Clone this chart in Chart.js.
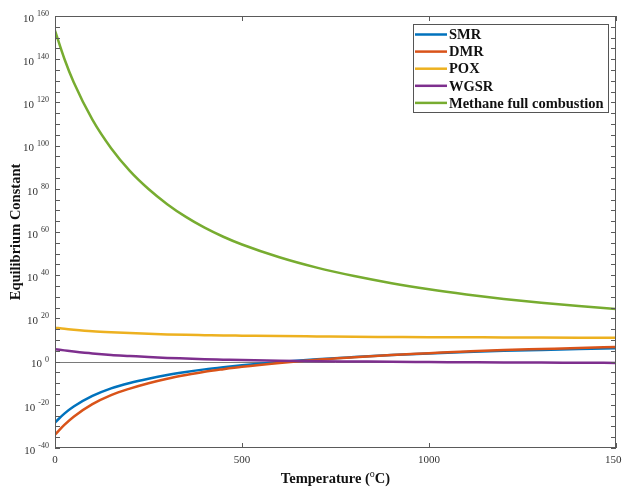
<!DOCTYPE html>
<html lang="en">
<head>
  <meta charset="UTF-8">
  <title>Equilibrium Constant</title>
  <style>
    html, body { margin: 0; padding: 0; background: #fff; }
    #wrap { width: 622px; height: 487px; }
  </style>
  <script src="https://cdn.jsdelivr.net/npm/chart.js"></script>
</head>
<body>
  <div id="wrap"><canvas id="myChart" width="622" height="487"></canvas></div>
  <script>
    // temperature (oC) and log10 of the equilibrium constant
    const temps = [0, 25, 50, 100, 150, 200, 250, 300, 350, 400, 450, 500, 600, 700, 800, 900, 1000, 1100, 1200, 1300, 1400, 1500];
    const smr = [-28.2, -24.1, -20.8, -15.9, -12.4, -9.9, -7.9, -6.2, -4.8, -3.6, -2.6, -1.7, -0.2, 1.1, 2.1, 3.0, 3.7, 4.4, 5.0, 5.4, 5.8, 6.2];
    const dmr = [-33.8, -29.3, -25.5, -19.7, -15.5, -12.5, -10.0, -7.9, -6.2, -4.7, -3.5, -2.4, -0.6, 0.9, 2.05, 3.1, 3.9, 4.7, 5.4, 5.85, 6.3, 6.8];
    const pox = [15.7, 15.2, 14.8, 14.1, 13.6, 13.2, 12.9, 12.6, 12.4, 12.25, 12.1, 12.0, 11.8, 11.65, 11.5, 11.4, 11.3, 11.25, 11.2, 11.1, 11.05, 11.0];
    const wgsr = [5.7, 5.2, 4.7, 3.8, 3.1, 2.6, 2.1, 1.7, 1.4, 1.1, 0.9, 0.7, 0.4, 0.2, 0.05, -0.1, -0.2, -0.3, -0.4, -0.45, -0.5, -0.6];
    const combustion = [153.2, 140.2, 129.3, 112.0, 98.8, 88.3, 79.9, 72.9, 67.0, 62.0, 57.8, 54.2, 48.3, 43.5, 39.6, 36.3, 33.5, 31.1, 29.0, 27.2, 25.7, 24.4];

    const seriesNames = ['SMR', 'DMR', 'POX', 'WGSR', 'Methane full combustion'];
    const seriesColors = ['#0072BD', '#D95319', '#EDB120', '#7E2F8E', '#77AC30'];
    const xTicks = [0, 500, 1000, 1500];
    const yExpTicks = [-40, -20, 0, 20, 40, 60, 80, 100, 120, 140, 160];

    const SERIF = '"Liberation Serif", "Times New Roman", serif';

    function pts(vals) {
      return temps.map((t, i) => ({ x: t, y: vals[i] }));
    }

    const allSeries = [smr, dmr, pox, wgsr, combustion];
    const datasets = allSeries.map((vals, i) => ({
      label: seriesNames[i],
      data: pts(vals),
      borderColor: seriesColors[i],
      backgroundColor: seriesColors[i],
      borderWidth: 2.5,
      pointRadius: 0,
      fill: false,
      cubicInterpolationMode: 'monotone',
      order: 5 - i
    }));

    // axes box, ticks, power-of-ten labels, titles and legend, MATLAB style
    const matlabAxes = {
      id: 'matlabAxes',
      beforeDatasetsDraw(chart) {
        const { ctx, chartArea: a, scales: { y } } = chart;
        const y0 = Math.round(y.getPixelForValue(0)) + 0.5;
        ctx.save();
        ctx.strokeStyle = '#7a7a7a';
        ctx.lineWidth = 1;
        ctx.beginPath();
        ctx.moveTo(a.left, y0);
        ctx.lineTo(a.right, y0);
        ctx.stroke();
        ctx.restore();
      },
      afterDraw(chart) {
        const { ctx, chartArea: a, scales: { x, y } } = chart;
        ctx.save();
        ctx.strokeStyle = '#5a5a5a';
        ctx.lineWidth = 1;
        ctx.strokeRect(a.left + 0.5, a.top + 0.5, a.right - a.left - 1, a.bottom - a.top - 1);

        // y ticks every 5 decades, both sides
        ctx.beginPath();
        for (let v = -40; v <= 160; v += 5) {
          const py = Math.round(y.getPixelForValue(v)) + 0.5;
          ctx.moveTo(a.left, py); ctx.lineTo(a.left + 5, py);
          ctx.moveTo(a.right, py); ctx.lineTo(a.right - 5, py);
        }
        xTicks.forEach(t => {
          const px = Math.round(x.getPixelForValue(t)) + 0.5;
          ctx.moveTo(px, a.bottom); ctx.lineTo(px, a.bottom - 5);
          ctx.moveTo(px, a.top); ctx.lineTo(px, a.top + 5);
        });
        ctx.stroke();

        // tick labels
        ctx.fillStyle = '#333';
        yExpTicks.forEach(v => {
          const py = y.getPixelForValue(v);
          ctx.font = '8px ' + SERIF;
          const sup = String(v);
          const supW = ctx.measureText(sup).width;
          const right = a.left - 6;
          ctx.textAlign = 'right';
          ctx.textBaseline = 'middle';
          ctx.fillText(sup, right, py - 2);
          ctx.font = '11px ' + SERIF;
          ctx.fillText('10', right - supW - 3, py + 3);
        });
        ctx.font = '11px ' + SERIF;
        ctx.textAlign = 'center';
        ctx.textBaseline = 'middle';
        xTicks.forEach(t => {
          ctx.fillText(String(t), x.getPixelForValue(t), 460);
        });

        // x title with superscript o
        ctx.fillStyle = '#111';
        ctx.textBaseline = 'alphabetic';
        ctx.textAlign = 'left';
        const bold = 'bold 14.5px ' + SERIF;
        const supFont = '10px ' + SERIF;
        ctx.font = bold;
        const p1 = 'Temperature (', p3 = 'C)';
        const w1 = ctx.measureText(p1).width, w3 = ctx.measureText(p3).width;
        ctx.font = supFont;
        const w2 = ctx.measureText('o').width;
        let sx = (a.left + a.right) / 2 - (w1 + w2 + w3) / 2;
        ctx.font = bold;
        ctx.fillText(p1, sx, 483);
        ctx.font = supFont;
        ctx.fillText('o', sx + w1, 477);
        ctx.font = bold;
        ctx.fillText(p3, sx + w1 + w2, 483);

        // y title
        ctx.save();
        ctx.translate(19.5, (a.top + a.bottom) / 2);
        ctx.rotate(-Math.PI / 2);
        ctx.textAlign = 'center';
        ctx.fillText('Equilibrium Constant', 0, 0);
        ctx.restore();

        // legend
        const lx = 413, ly = 24, lw = 195, lh = 88;
        ctx.fillStyle = '#fff';
        ctx.fillRect(lx, ly, lw, lh);
        ctx.strokeStyle = '#555';
        ctx.strokeRect(lx + 0.5, ly + 0.5, lw, lh);
        chart.data.datasets.forEach((ds, i) => {
          const ry = 34.5 + i * 17.1;
          ctx.strokeStyle = ds.borderColor;
          ctx.lineWidth = 2.5;
          ctx.beginPath();
          ctx.moveTo(415, ry);
          ctx.lineTo(447, ry);
          ctx.stroke();
          ctx.fillStyle = '#111';
          ctx.font = bold;
          ctx.textAlign = 'left';
          ctx.textBaseline = 'middle';
          ctx.fillText(ds.label, 449, ry + 1);
        });
        ctx.restore();
      }
    };

    const ctx = document.getElementById('myChart').getContext('2d');
    const myChart = new Chart(ctx, {
      type: 'line',
      data: { datasets: datasets },
      options: {
        responsive: false,
        animation: false,
        layout: { padding: { left: 55, top: 16, right: 6, bottom: 39 } },
        scales: {
          x: { type: 'linear', min: 0, max: 1500, display: false },
          y: { type: 'linear', min: -40, max: 160, display: false }
        },
        plugins: {
          legend: { display: false },
          tooltip: { enabled: false }
        }
      },
      plugins: [matlabAxes]
    });
  </script>
</body>
</html>
